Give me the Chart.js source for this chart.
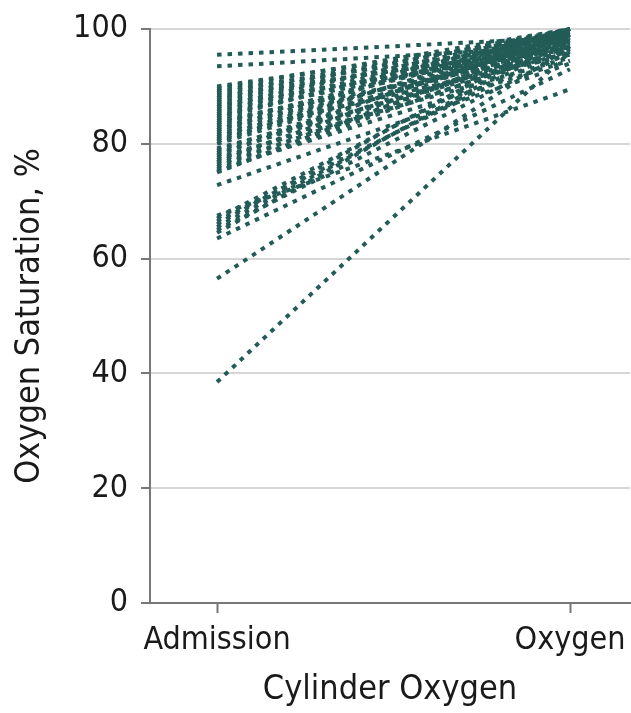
<!DOCTYPE html>
<html>
<head>
<meta charset="utf-8">
<script src="https://cdn.jsdelivr.net/npm/chart.js@4"></script>
<style>
  html, body { margin: 0; padding: 0; background: #fff; }
</style>
</head>
<body>
<canvas id="chart" width="631" height="713"></canvas>
<script>
// time points on the x axis
const timepoints = ['Admission', 'Oxygen'];
const yTicks = [0, 20, 40, 60, 80, 100];

// saturation per patient, paired by index
const admission = [95.5, 93.5,
  90, 89.6, 89.2, 88.8, 88.4, 88, 87.6, 87.2, 86.8, 86.4, 86, 85.6, 85.2, 84.8, 84.4, 84,
  83.6, 83.2, 82.8, 82.4, 82, 81.6, 81.2, 80.8, 80.4, 80, 79.2, 78.8, 78.4, 78, 77.6, 77.2,
  76.8, 76.4, 76, 75.6, 75.2, 75,
  72.8, 67.5, 67, 66.5, 66, 65.5, 65, 64.5, 63.5, 56.5, 38.5];
const oxygen = [98.5, 97,
  99, 100, 98, 99.5, 97, 100, 98.5, 99, 96.5, 100, 98, 99.5, 97.5, 99, 100, 96,
  98.5, 99.5, 97, 100, 98, 95.5, 99, 97.5, 100, 98.5, 96, 99, 97, 100, 95, 98,
  99.5, 96.5, 98, 94.5, 97, 99,
  94, 89.5, 99, 97, 100, 98, 96, 99, 93, 97, 96];

const lineColor = '#235c57';
const textColor = '#1a1a1a';
const font = '"DejaVu Sans Condensed", "DejaVu Sans", sans-serif';

const datasets = admission.map((a, i) => ({
  data: [{ x: 0, y: a }, { x: 1, y: oxygen[i] }],
  borderColor: lineColor,
  borderWidth: 4,
  borderDash: [4.5, 6],
  borderCapStyle: 'butt',
  pointRadius: 0,
  fill: false,
  clip: false,
}));

const ctx = document.getElementById('chart').getContext('2d');
new Chart(ctx, {
  type: 'line',
  data: { datasets },
  options: {
    responsive: false,
    animation: false,
    devicePixelRatio: 1,
    layout: { padding: { top: 29, right: 1, left: 0, bottom: 0 } },
    plugins: { legend: { display: false }, tooltip: { enabled: false } },
    scales: {
      x: {
        type: 'linear',
        min: -0.19,
        max: 1.17,
        afterBuildTicks: (scale) => { scale.ticks = timepoints.map((_, i) => ({ value: i })); },
        afterFit: (scale) => {
          scale.height = 110;
          scale.paddingLeft = 0;
          scale.paddingRight = 0;
        },
        ticks: {
          callback: (v) => timepoints[v],
          color: textColor,
          font: { family: font, size: 32 },
          padding: 8,
          maxRotation: 0,
        },
        grid: { drawOnChartArea: false, tickLength: 10, tickColor: '#777', tickWidth: 2 },
        border: { color: '#777', width: 2 },
        title: {
          display: true,
          text: 'Cylinder Oxygen',
          color: textColor,
          font: { family: font, size: 34 },
          padding: { top: 0, bottom: 2 },
        },
      },
      y: {
        min: 0,
        max: 100,
        afterBuildTicks: (scale) => { scale.ticks = yTicks.map(v => ({ value: v })); },
        afterFit: (scale) => {
          scale.width = 150;
          scale.paddingTop = 0;
          scale.paddingBottom = 0;
        },
        ticks: {
          color: textColor,
          font: { family: font, size: 32 },
          padding: 13,
        },
        grid: { color: '#d6d6d6', lineWidth: 2, tickLength: 9, tickColor: '#777', tickWidth: 2 },
        border: { color: '#777', width: 2 },
        title: {
          display: true,
          text: 'Oxygen Saturation, %',
          color: textColor,
          font: { family: font, size: 34 },
          padding: { top: 10, bottom: 0 },
        },
      },
    },
  },
});
</script>
</body>
</html>
